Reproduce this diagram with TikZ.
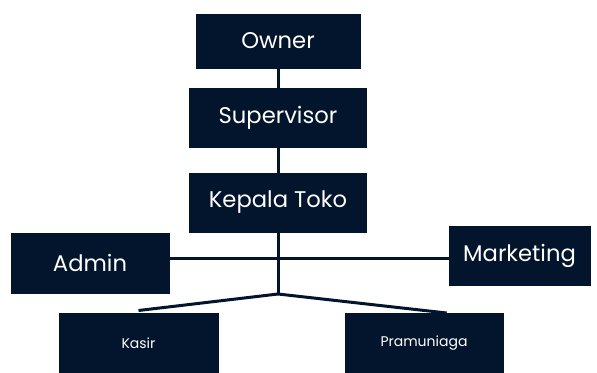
\documentclass[tikz,border=0pt]{standalone}
\usepackage{fontspec}
\setmainfont{Poppins}
\definecolor{navy}{RGB}{3,21,44}
\tikzset{every picture/.style={line width=0.75pt}}
\tikzset{
  jabatan/.style={draw=navy,fill=navy,text=white,inner sep=0pt,font=\fontsize{17}{20}\selectfont},
  staf/.style={jabatan,font=\fontsize{10.5}{12}\selectfont},
  garis/.style={draw=navy,line width=2.25pt}
}
\begin{document}
\begin{tikzpicture}[x=0.75pt,y=0.75pt,yscale=-1,xscale=1]
\path[use as bounding box] (0,0) rectangle (597,372);

%Shape: Rectangle [owner]
\draw (278,41) node [jabatan,minimum width=123pt,minimum height=40.5pt] (owner) {Owner};
%Shape: Rectangle [supervisor]
\draw (278,117.5) node [jabatan,minimum width=132.75pt,minimum height=44.25pt] (supervisor) {Supervisor};
%Shape: Rectangle [kepala]
\draw (278,202.5) node [jabatan,minimum width=132.75pt,minimum height=44.25pt] (kepala) {Kepala Toko};
%Shape: Rectangle [admin]
\draw (90,263) node [jabatan,minimum width=118.5pt,minimum height=45pt] (admin) {Admin};
%Shape: Rectangle [marketing]
\draw (519.5,255.5) node [jabatan,minimum width=105.75pt,minimum height=44.25pt] (marketing) {Marketing};
%Shape: Rectangle [kasir]
\draw (138.5,343) node [staf,minimum width=119.25pt,minimum height=45pt] (kasir) {Kasir};
%Shape: Rectangle [pramuniaga]
\draw (424,343.5) node [staf,minimum width=118.5pt,minimum height=45pt] (pramuniaga) {Pramuniaga};

% junctions
\coordinate (silang) at (278,258);
\coordinate (cabang) at (278,294);

%Straight Lines
\draw [garis] (owner) -- (supervisor);
\draw [garis] (supervisor) -- (kepala);
\draw [garis] (kepala) -- (cabang);
\draw [garis] (admin.east |- silang) -- (marketing.west |- silang);
\draw [garis] (cabang) -- ([yshift=-1.5pt]kasir.north);
\draw [garis] (cabang) -- ([xshift=17pt]pramuniaga.north);

\end{tikzpicture}
\end{document}
